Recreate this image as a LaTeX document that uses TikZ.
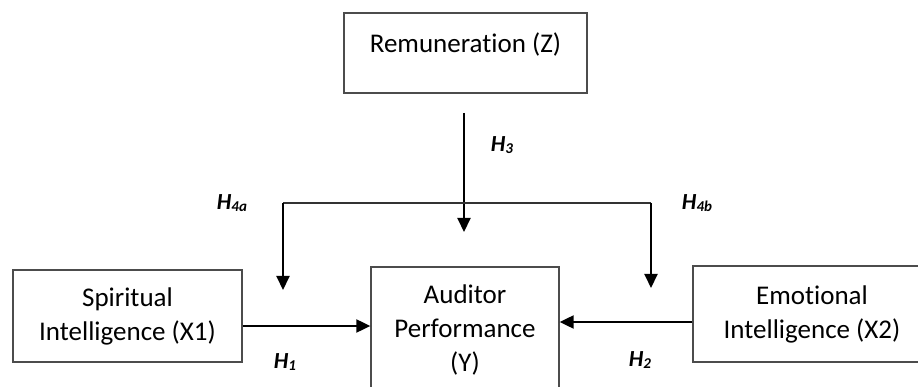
\documentclass[tikz,border=0pt]{standalone}
\usepackage{fontspec}
\setmainfont{Carlito}[RawFeature={-liga}]
\usetikzlibrary{arrows.meta}

\newcommand{\hname}[1]{H\raisebox{-0.15ex}{\fontsize{15}{16}\selectfont#1}}

\tikzset{
	varbox/.style={draw=black!70, line width=1.3pt, align=center, font=\fontsize{27}{34}\selectfont},
	arr/.style={line width=2pt, -{Triangle[length=14pt,width=13pt]}},
	hlabel/.style={font=\fontsize{23}{26}\selectfont\bfseries\itshape},
}

\begin{document}
\begin{tikzpicture}[x=1pt,y=-1pt]
				\clip (0,0) rectangle (918,387);
				
				\node[varbox, minimum width=243pt, text height=40pt, text depth=40pt, inner ysep=0pt] (remun) at (465.5,53) {Remuneration (Z)};
				\node[varbox, minimum width=229pt, minimum height=92pt] (spirit) at (127.5,316) {Spiritual\\Intelligence (X1)};
				\node[varbox, minimum width=188pt, minimum height=126pt] (audit) at (465,330) {Auditor\\Performance\\(Y)};
				\node[varbox, minimum width=238pt, minimum height=96pt] (emotion) at (812,314) {Emotional\\Intelligence (X2)};
				
				\coordinate (h3top) at (464,113);
				\coordinate (h3tip) at (464,232);
				\coordinate (h4a) at (283,203);
				\coordinate (h4b) at (651,203);
				\coordinate (h4atip) at (283,290);
				\coordinate (h4btip) at (651,288);
				
				% moderation lines
				\draw[arr] (h3top) -- (h3tip);
				\draw[black!80, line width=1.5pt] (h4a) -- (h4b);
				\draw[arr] (h4a) -- (h4atip);
				\draw[arr] (h4b) -- (h4btip);
				
				% direct effects
				\draw[arr] (spirit.east) ++(0,10) coordinate (h1from) -- (h1from -| audit.west);
				\draw[arr] (emotion.west) ++(0,8) coordinate (h2from) -- (h2from -| audit.east);
				
				\node[hlabel] (h3lbl) at (502,145) {\hname{3}};
				\node[hlabel] (h4albl) at (232,203) {\hname{4a}};
				\node[hlabel] (h4blbl) at (697,203) {\hname{4b}};
				\node[hlabel] (h1lbl) at (285,362) {\hname{1}};
				\node[hlabel] (h2lbl) at (640,360) {\hname{2}};
			\end{tikzpicture}
\end{document}
